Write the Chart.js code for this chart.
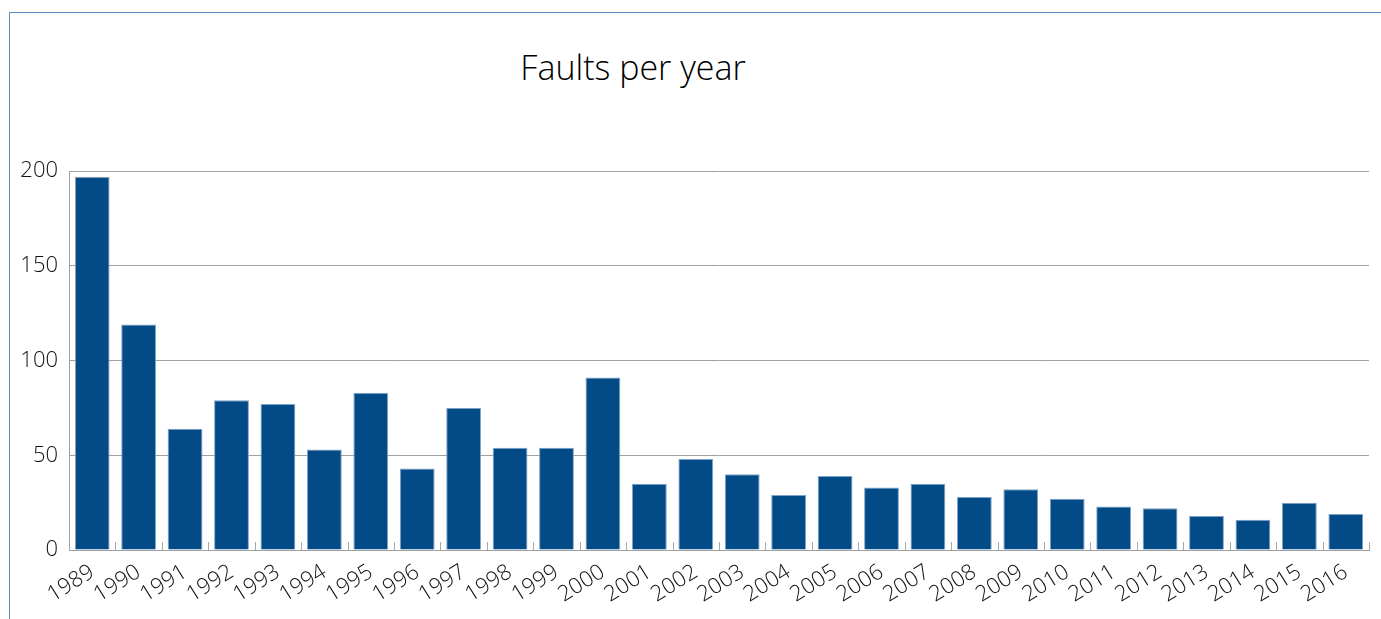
<!DOCTYPE html>
<html>
<head>
<meta charset="utf-8">
<script src="https://cdn.jsdelivr.net/npm/chart.js@4/dist/chart.umd.min.js"></script>
<style>
  html, body { margin: 0; padding: 0; background: #fff; overflow: hidden; }
  #wrap { position: relative; width: 1381px; height: 619px; }
  #frame { position: absolute; left: 9px; top: 12px; width: 1400px; height: 700px;
           border-left: 1px solid #5b8fc0; border-top: 1px solid #5b8fc0; box-sizing: border-box; }
  #title { position: absolute; left: 433px; width: 400px; top: 44px; text-align: center;
           font-family: "Open Sans", sans-serif; font-weight: 300; font-size: 34px; color: #000; line-height: 46px; }
  canvas { position: absolute; left: 0; top: 0; }
</style>
</head>
<body>
<div id="wrap">
  <div id="frame"></div>
  <div id="title">Faults per year</div>
  <canvas id="c" width="1381" height="619"></canvas>
</div>
<script>
const years = ["1989","1990","1991","1992","1993","1994","1995","1996","1997","1998","1999","2000","2001","2002","2003","2004","2005","2006","2007","2008","2009","2010","2011","2012","2013","2014","2015","2016"];
const faults = [197,119,64,79,77,53,83,43,75,54,54,91,35,48,40,29,39,33,35,28,32,27,23,22,18,16,25,19];
const yTicks = [0,50,100,150,200];

const innerTicks = {
  id: 'innerTicks',
  afterDatasetsDraw(chart) {
    const x = chart.scales.x, ctx = chart.ctx;
    const bottom = chart.chartArea.bottom;
    ctx.save();
    ctx.strokeStyle = '#a8a8a8';
    ctx.lineWidth = 1;
    for (let i = 0; i <= years.length; i++) {
      const px = Math.round(x.getPixelForValue(i - 0.5)) + 0.5;
      ctx.beginPath();
      ctx.moveTo(px, bottom);
      ctx.lineTo(px, bottom - 8);
      ctx.stroke();
    }
    ctx.restore();
  }
};

new Chart(document.getElementById('c'), {
  type: 'bar',
  data: {
    labels: years,
    datasets: [{
      data: faults,
      backgroundColor: '#024b87',
      borderColor: faults.map((v, i) => i === 0 ? '#a3a3a3' : '#7ea3c8'),
      borderWidth: 1,
      barPercentage: 0.75,
      categoryPercentage: 1.0
    }]
  },
  options: {
    responsive: false,
    animation: false,
    events: [],
    layout: { padding: { left: 0, right: 12, top: 171, bottom: 0 } },
    plugins: { legend: { display: false }, title: { display: false }, tooltip: { enabled: false } },
    scales: {
      x: {
        offset: true,
        grid: { display: false, drawTicks: false },
        border: { display: true, color: '#a0a0a0', width: 1 },
        ticks: {
          minRotation: 32, maxRotation: 32, autoSkip: false,
          color: '#111', padding: 9,
          font: { family: "Open Sans", size: 22, weight: 300 }
        },
        afterFit(s) { s.height = 69; }
      },
      y: {
        min: 0, max: 200,
        afterBuildTicks(s) { s.ticks = yTicks.map(v => ({ value: v })); },
        grid: { color: '#a0a0a0', lineWidth: 1, drawTicks: false },
        border: { display: true, color: '#a0a0a0', width: 1 },
        ticks: {
          color: '#111', padding: 11,
          font: { family: "Open Sans", size: 22, weight: 300 }
        },
        afterFit(s) { s.width = 69; }
      }
    }
  },
  plugins: [innerTicks]
});
</script>
</body>
</html>
